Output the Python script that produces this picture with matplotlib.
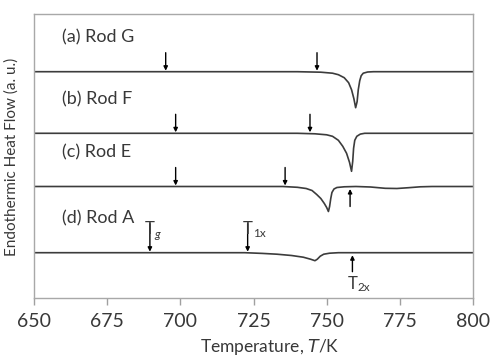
import matplotlib
matplotlib.use("Agg")
import matplotlib.pyplot as plt

plt.rcParams['font.family'] = ['Lato', 'DejaVu Sans']

# Temperature (K) and heat-flow offset (a.u.)
rod_g_T = [650, 740, 748, 752, 754, 756, 757.5, 758.5, 759.3, 759.9, 760.4, 760.8, 761.3, 761.8, 762.5, 764, 766, 800]
rod_g_y = [0, 0, -0.5, -1.5, -3, -6, -11, -18, -27, -36, -30, -18, -9, -4, -1.5, -0.3, 0, 0]

rod_f_T = [650, 740, 746, 750, 752, 754, 755.5, 756.8, 757.8, 758.5, 758.9, 759.2, 759.6, 760.3, 761.5, 763, 800]
rod_f_y = [0, 0, -0.5, -1.5, -3, -7, -13, -20, -29, -38, -28, -15, -7, -3, -0.8, 0, 0]

rod_e_T = [650, 735, 740, 743, 745, 746.6, 748, 749.2, 750, 750.6, 751, 751.4, 751.8, 752.5, 753.5, 756, 760, 765, 770, 774, 778, 782, 786, 800]
rod_e_y = [0, 0, -0.8, -2, -4, -8, -12, -17, -21, -25, -20, -12, -6, -2.5, -1, -0.3, 0, -0.5, -1.8, -2, -1.2, -0.3, 0, 0]

rod_a_T = [650, 722, 728, 733, 738, 742, 744.5, 746, 746.8, 747.8, 749, 751, 754, 800]
rod_a_y = [0, 0, -0.7, -1.5, -2.8, -4.5, -6.5, -8, -6.5, -3.5, -1.5, -0.5, 0, 0]

labels = ['(a) Rod G', '(b) Rod F', '(c) Rod E', '(d) Rod A']
baselines = [226.3, 164.7, 111.5, 45.3]

# arrow positions (K)
down_arrows = [[695.0, 746.7], [698.4, 744.3], [698.4, 735.8], [689.6, 723.0]]
up_arrows = [[], [], [758.0], [758.8]]

xticks = [650, 675, 700, 725, 750, 775, 800]

curves = [(rod_g_T, rod_g_y), (rod_f_T, rod_f_y), (rod_e_T, rod_e_y), (rod_a_T, rod_a_y)]

fig = plt.figure(figsize=(4.91, 3.61), dpi=100)
ax = fig.add_axes([34/491, 63/361, 439/491, 284/361])

txt_c = '#383838'
line_c = '#3c3c3c'
for (T, y), b, lab in zip(curves, baselines, labels):
    ax.plot(T, [b + v for v in y], color=line_c, lw=1.2)
    ax.text(659.6, b + 34, lab, fontsize=13, color=txt_c, va='center', ha='left')

arrow_kw = dict(arrowstyle='-|>', color='black', lw=1.0, mutation_scale=6, shrinkA=0, shrinkB=0)
for i, (downs, ups) in enumerate(zip(down_arrows, up_arrows)):
    b = baselines[i]
    for t in downs:
        top = 19 if i < 3 else 29
        ax.annotate('', xy=(t, b + 1), xytext=(t, b + top), arrowprops=arrow_kw)
    for t in ups:
        bottom = 20 if i < 3 else 19
        ax.annotate('', xy=(t, b - 2.5), xytext=(t, b - bottom), arrowprops=arrow_kw)

# T labels for Rod A
bA = baselines[3]
ax.text(down_arrows[3][0], bA + 32, 'T', fontsize=12, color=txt_c, ha='center', va='top')
ax.text(down_arrows[3][0] + 1.6, bA + 18, 'g', fontsize=8.5, color=txt_c, ha='left', va='center', style='italic')
ax.text(down_arrows[3][1], bA + 32, 'T', fontsize=12, color=txt_c, ha='center', va='top')
ax.text(down_arrows[3][1] + 1.8, bA + 19, '1x', fontsize=8.5, color=txt_c, ha='left', va='center')
ax.text(up_arrows[3][0], bA - 23, 'T', fontsize=12, color=txt_c, ha='center', va='top')
ax.text(up_arrows[3][0] + 1.9, bA - 35, '2x', fontsize=8.5, color=txt_c, ha='left', va='center')

ax.set_xlim(650, 800)
ax.set_ylim(0, 284)
ax.set_xticks(xticks)
ax.set_xticklabels([str(v) for v in xticks])
ax.set_yticks([])
ax.tick_params(axis='x', direction='out', length=5, width=1, color='#a0a0a0', labelsize=14, labelcolor=txt_c, pad=6)
for s in ax.spines.values():
    s.set_color('#a8a8a8')
    s.set_linewidth(1.0)

fig.text(270/491, 1 - 347/361, 'Temperature, $\\it{T}$/K', fontsize=12.5, color=txt_c, ha='center', va='center')
fig.text(12/491, 1 - 157/361, 'Endothermic Heat Flow (a. u.)', fontsize=11, color=txt_c, ha='center', va='center', rotation=90)

fig.savefig('out.png', dpi=100)
